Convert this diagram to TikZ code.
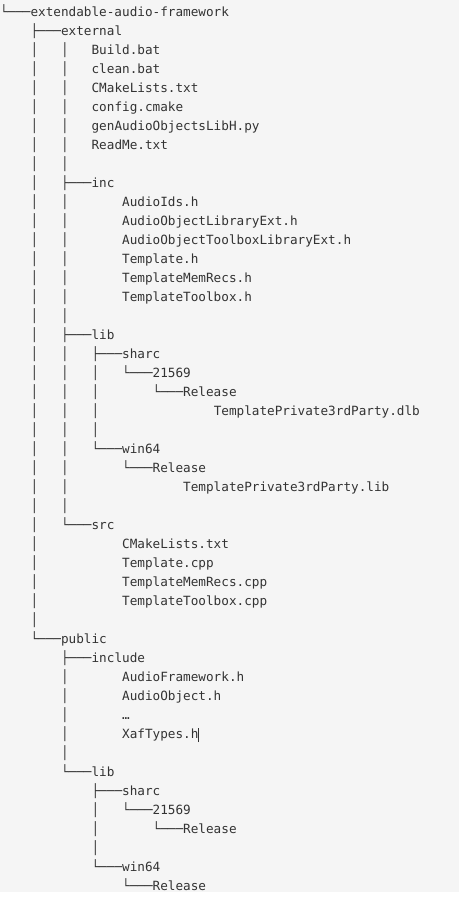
\documentclass[tikz,border=0pt]{standalone}
\usepackage{fontspec}
\newfontfamily\treefont{DejaVu Sans Mono}
\definecolor{bgc}{HTML}{F5F5F5}
\definecolor{txt}{HTML}{333333}
\newcommand\Q{~~~~}
\newcommand\B{│~~~}
\newcommand\TreeLn[2]{\node[treeline] (l#1) at (0,{-16-19*#1}) {#2};}
\tikzset{
  treeline/.style={anchor=base west, inner sep=0pt, outer sep=0pt, text=txt,
    font=\treefont\fontsize{12.68}{19}\selectfont},
  cursor/.style={draw=txt, line width=0.9pt}
}
\begin{document}
\begin{tikzpicture}[x=1pt,y=1pt]
\useasboundingbox (0,0) rectangle (459,-898);
\fill[bgc] (0,0) rectangle (459,-892);
\TreeLn{0}{└───extendable-audio-framework}
\TreeLn{1}{\Q{}├───external}
\TreeLn{2}{\Q\B\B{}Build.bat}
\TreeLn{3}{\Q\B\B{}clean.bat}
\TreeLn{4}{\Q\B\B{}CMakeLists.txt}
\TreeLn{5}{\Q\B\B{}config.cmake}
\TreeLn{6}{\Q\B\B{}genAudioObjectsLibH.py}
\TreeLn{7}{\Q\B\B{}ReadMe.txt}
\TreeLn{8}{\Q\B{}│}
\TreeLn{9}{\Q\B{}├───inc}
\TreeLn{10}{\Q\B\B\Q{}AudioIds.h}
\TreeLn{11}{\Q\B\B\Q{}AudioObjectLibraryExt.h}
\TreeLn{12}{\Q\B\B\Q{}AudioObjectToolboxLibraryExt.h}
\TreeLn{13}{\Q\B\B\Q{}Template.h}
\TreeLn{14}{\Q\B\B\Q{}TemplateMemRecs.h}
\TreeLn{15}{\Q\B\B\Q{}TemplateToolbox.h}
\TreeLn{16}{\Q\B{}│}
\TreeLn{17}{\Q\B{}├───lib}
\TreeLn{18}{\Q\B\B{}├───sharc}
\TreeLn{19}{\Q\B\B\B{}└───21569}
\TreeLn{20}{\Q\B\B\B\Q{}└───Release}
\TreeLn{21}{\Q\B\B\B\Q\Q\Q{}TemplatePrivate3rdParty.dlb}
\TreeLn{22}{\Q\B\B{}│}
\TreeLn{23}{\Q\B\B{}└───win64}
\TreeLn{24}{\Q\B\B\Q{}└───Release}
\TreeLn{25}{\Q\B\B\Q\Q\Q{}TemplatePrivate3rdParty.lib}
\TreeLn{26}{\Q\B{}│}
\TreeLn{27}{\Q\B{}└───src}
\TreeLn{28}{\Q\B\Q\Q{}CMakeLists.txt}
\TreeLn{29}{\Q\B\Q\Q{}Template.cpp}
\TreeLn{30}{\Q\B\Q\Q{}TemplateMemRecs.cpp}
\TreeLn{31}{\Q\B\Q\Q{}TemplateToolbox.cpp}
\TreeLn{32}{\Q{}│}
\TreeLn{33}{\Q{}└───public}
\TreeLn{34}{\Q\Q{}├───include}
\TreeLn{35}{\Q\Q\B\Q{}AudioFramework.h}
\TreeLn{36}{\Q\Q\B\Q{}AudioObject.h}
\TreeLn{37}{\Q\Q\B\Q{}…}
\TreeLn{38}{\Q\Q\B\Q{}XafTypes.h}
\TreeLn{39}{\Q\Q{}│}
\TreeLn{40}{\Q\Q{}└───lib}
\TreeLn{41}{\Q\Q\Q{}├───sharc}
\TreeLn{42}{\Q\Q\Q\B{}└───21569}
\TreeLn{43}{\Q\Q\Q\B\Q{}└───Release}
\TreeLn{44}{\Q\Q\Q{}│}
\TreeLn{45}{\Q\Q\Q{}└───win64}
\TreeLn{46}{\Q\Q\Q\Q{}└───Release}
\draw[cursor] ([xshift=0.3pt,yshift=-4pt]l38.base east) -- ++(0,14);
\end{tikzpicture}
\end{document}
